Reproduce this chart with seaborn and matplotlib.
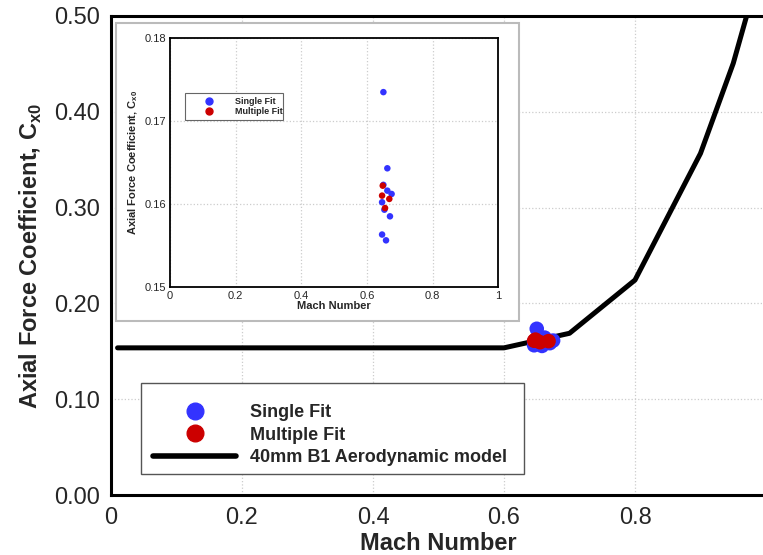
import matplotlib
matplotlib.use("Agg")
import matplotlib.pyplot as plt
from matplotlib.patches import Rectangle
from matplotlib.lines import Line2D
from matplotlib.ticker import MultipleLocator, FormatStrFormatter, FuncFormatter
import pandas as pd
import seaborn as sns

sns.set_style("white")
plt.rcParams.update({
    "font.family": ["Liberation Sans", "DejaVu Sans"],
    "mathtext.fontset": "custom",
    "mathtext.rm": "Liberation Sans",
    "mathtext.bf": "Liberation Sans:bold",
    "xtick.direction": "in",
    "ytick.direction": "in",
})

# ── data ─────────────────────────────────────────────────────────────────────
single_mach = [0.650, 0.662, 0.650, 0.662, 0.675, 0.646, 0.653, 0.670, 0.646, 0.658]
single_cx0  = [0.1735, 0.1643, 0.1623, 0.1616, 0.1612, 0.1602, 0.1593, 0.1585, 0.1563, 0.1556]
multi_mach  = [0.648, 0.646, 0.668, 0.655]
multi_cx0   = [0.1622, 0.1610, 0.1606, 0.1595]
model_mach  = [0.01, 0.60, 0.70, 0.80, 0.90, 0.95, 0.97]
model_cx0   = [0.1536, 0.1536, 0.1688, 0.2244, 0.3566, 0.4506, 0.4990]

BLUE = "#3333ff"
RED  = "#cc0000"

single = pd.DataFrame({"mach": single_mach, "cx0": single_cx0})
multi  = pd.DataFrame({"mach": multi_mach, "cx0": multi_cx0})
model  = pd.DataFrame({"mach": model_mach, "cx0": model_cx0})

W, H = 763, 555
fig = plt.figure(figsize=(W / 100, H / 100), dpi=100)


def fmt_g(v, _):
    return f"{v:g}"


def fmt_main_x(v, _):
    # the x = 1 label falls outside the cropped picture
    return "" if v > 0.99 else f"{v:g}"


def style_axes(ax, lw):
    for s in ax.spines.values():
        s.set_linewidth(lw)
        s.set_color("black")
    ax.grid(True, which="major", color="#cccccc", linestyle=":", linewidth=0.9)
    ax.set_axisbelow(True)


# ── main axes ────────────────────────────────────────────────────────────────
ax = fig.add_axes([111 / W, 1 - 495 / H, 655 / W, 479 / H])
sns.lineplot(data=model, x="mach", y="cx0", ax=ax, color="black", lw=3.6,
             sort=False, estimator=None, zorder=3)
sns.scatterplot(data=single, x="mach", y="cx0", ax=ax, color=BLUE, s=110,
                edgecolor="none", zorder=4)
sns.scatterplot(data=multi, x="mach", y="cx0", ax=ax, color=RED, s=110,
                edgecolor="none", zorder=5)
ax.set_xlim(0, 1)
ax.set_ylim(0, 0.5)
ax.xaxis.set_major_locator(MultipleLocator(0.2))
ax.xaxis.set_minor_locator(MultipleLocator(0.05))
ax.yaxis.set_major_locator(MultipleLocator(0.1))
ax.yaxis.set_minor_locator(MultipleLocator(0.02))
ax.xaxis.set_major_formatter(FuncFormatter(fmt_main_x))
ax.yaxis.set_major_formatter(FormatStrFormatter("%.2f"))
ax.tick_params(which="major", length=9, width=2, labelsize=17)
ax.tick_params(axis="x", which="major", pad=9)
ax.tick_params(axis="y", which="major", pad=8)
ax.tick_params(which="minor", length=5, width=1)
ax.set_xlabel("Mach Number", fontsize=17, fontweight="bold", labelpad=2)
ax.set_ylabel(r"Axial Force Coefficient, C$_{\mathbf{x0}}$", fontsize=17,
              fontweight="bold", labelpad=7)
style_axes(ax, 2.2)

# main legend: frame drawn separately so the rows can sit like the original
ax.add_patch(Rectangle((141 / W, 1 - 474 / H), 383 / W, 91 / H,
                       transform=fig.transFigure, facecolor="white",
                       edgecolor="#555555", lw=1.0, zorder=5.5, clip_on=False))
handles = [
    Line2D([], [], marker="o", ls="none", color=BLUE, markersize=12),
    Line2D([], [], marker="o", ls="none", color=RED, markersize=12),
    Line2D([], [], color="black", lw=4),
]
leg = ax.legend(handles, ["Single Fit", "Multiple Fit", "40mm B1 Aerodynamic model"],
                loc="center left", bbox_to_anchor=(153 / W, 1 - 435 / H),
                bbox_transform=fig.transFigure, borderaxespad=0, borderpad=0,
                frameon=False, prop={"size": 13, "weight": "bold"},
                handlelength=4.6, handletextpad=0.75, labelspacing=0.3)
leg.set_zorder(6)

# ── inset background box ─────────────────────────────────────────────────────
fig.add_artist(Rectangle((116 / W, 1 - 321 / H), 403 / W, 298 / H,
                         transform=fig.transFigure, facecolor="white",
                         edgecolor="#bbbbbb", lw=1.5, zorder=1))

# ── inset axes ───────────────────────────────────────────────────────────────
ins = fig.add_axes([170 / W, 1 - 286.7 / H, 328.3 / W, 248.4 / H], zorder=2)
sns.scatterplot(data=single, x="mach", y="cx0", ax=ins, color=BLUE, s=22,
                edgecolor="none", zorder=4)
sns.scatterplot(data=multi, x="mach", y="cx0", ax=ins, color=RED, s=22,
                edgecolor="none", zorder=5)
ins.set_xlim(0, 1)
ins.set_ylim(0.15, 0.18)
ins.xaxis.set_major_locator(MultipleLocator(0.2))
ins.xaxis.set_minor_locator(MultipleLocator(0.05))
ins.yaxis.set_major_locator(MultipleLocator(0.01))
ins.yaxis.set_minor_locator(MultipleLocator(0.002))
ins.xaxis.set_major_formatter(FuncFormatter(fmt_g))
ins.yaxis.set_major_formatter(FormatStrFormatter("%.2f"))
ins.tick_params(which="major", length=5, width=1, labelsize=8, pad=3)
ins.tick_params(which="minor", length=2.5, width=0.8)
ins.set_xlabel("Mach Number", fontsize=8, fontweight="bold", labelpad=0)
ins.set_ylabel(r"Axial Force Coefficient, C$_{\mathbf{x0}}$", fontsize=8,
               fontweight="bold", labelpad=3)
style_axes(ins, 1.3)

ih = [
    Line2D([], [], marker="o", ls="none", color=BLUE, markersize=5),
    Line2D([], [], marker="o", ls="none", color=RED, markersize=5),
]
ileg = ins.legend(ih, ["Single Fit", "Multiple Fit"], loc="lower left",
                  bbox_to_anchor=(185 / W, 1 - 119.5 / H, 98 / W, 28 / H),
                  bbox_transform=fig.transFigure, mode="expand", borderaxespad=0,
                  fancybox=False, framealpha=1, edgecolor="#666666",
                  prop={"size": 6.5, "weight": "bold"}, handlelength=4.5,
                  handletextpad=0.6, labelspacing=0.1, borderpad=0.4)
ileg.get_frame().set_linewidth(0.8)

fig.savefig("out.png", dpi=100)
